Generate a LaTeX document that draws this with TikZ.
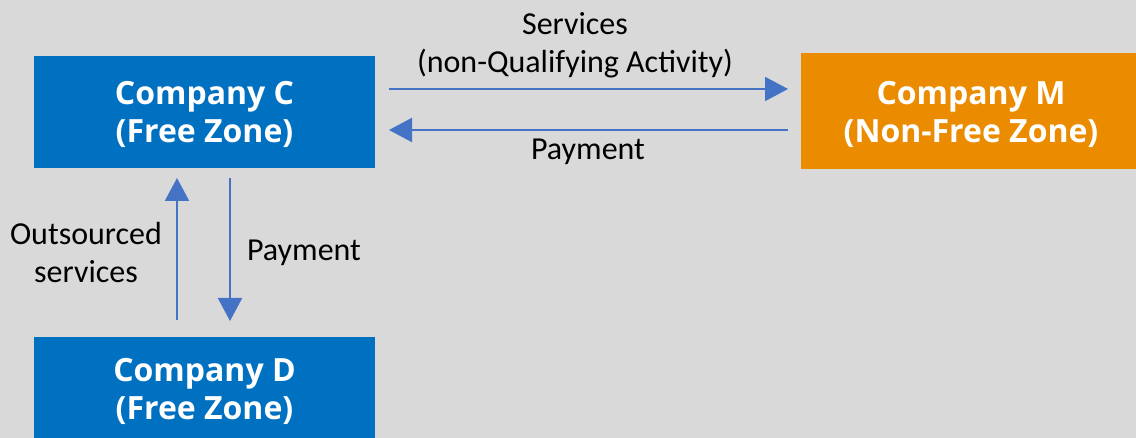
\documentclass[tikz,border=0pt]{standalone}
\usepackage{fontspec}
\setmainfont{Open Sans}
\newfontfamily\lblfont{Carlito}
\usetikzlibrary{arrows.meta}
\definecolor{bg}{HTML}{D9D9D9}
\definecolor{boxblue}{HTML}{0070C0}
\definecolor{boxorange}{HTML}{EB8C00}
\definecolor{arrowblue}{HTML}{4472C4}
\begin{document}
\begin{tikzpicture}[x=1pt,y=-1pt,
  company/.style={text=white,font=\fontsize{32}{38}\selectfont\bfseries,align=center},
  lbl/.style={text=black,font=\lblfont\fontsize{32}{38}\selectfont,align=center,inner sep=0pt},
  flow/.style={draw=arrowblue,line width=2pt,-{Triangle[length=23pt,width=24pt]}}]
\fill[bg] (0,0) rectangle (1136,438);
\useasboundingbox (0,0) rectangle (1136,438);
% boxes
\fill[boxblue] (34,56) rectangle (375,168);
\fill[boxorange] (801,53) rectangle (1140,169);
\fill[boxblue] (34,337) rectangle (375,442);
\node[company] (C) at (204.5,114) {Company C\\(Free Zone)};
\node[company] (M) at (971,114) {Company M\\(Non-Free Zone)};
\node[company] (D) at (204.5,391) {Company D\\(Free Zone)};
% connector endpoints
\coordinate (c1) at (389,89);
\coordinate (m1) at (788,89);
\coordinate (m2) at (788,130);
\coordinate (c2) at (389,130);
\coordinate (du) at (177,320);
\coordinate (cu) at (177,178);
\coordinate (cd) at (230,178);
\coordinate (dd) at (230,321);
\draw[flow] (c1) -- (m1);
\draw[flow] (m2) -- (c2);
\draw[flow] (du) -- (cu);
\draw[flow] (cd) -- (dd);
% labels
\node[lbl] (l1) at (575,45) {Services\\(non-Qualifying Activity)};
\node[lbl] (l2) at (588,152) {Payment};
\node[lbl] (l3) at (86,253) {Outsourced\\services};
\node[lbl] (l4) at (304,253) {Payment};
\end{tikzpicture}
\end{document}
